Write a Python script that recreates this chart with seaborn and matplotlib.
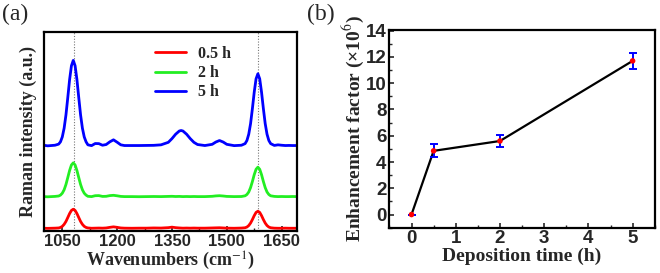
import numpy as np
import pandas as pd
import matplotlib
matplotlib.use("Agg")
import matplotlib.pyplot as plt
from matplotlib.ticker import MultipleLocator
import seaborn as sns

# ---------------- data ----------------
wavenumbers = [1000, 1010, 1020, 1030, 1040, 1045, 1050, 1055, 1060, 1065, 1070, 1075, 1080,
               1085, 1090, 1095, 1100, 1105, 1110, 1115, 1120, 1130, 1140, 1150, 1160, 1170,
               1180, 1190, 1200, 1210, 1220, 1240, 1260, 1280, 1300, 1320, 1340, 1350, 1360,
               1370, 1375, 1380, 1390, 1400, 1410, 1420, 1440, 1460, 1470, 1480, 1490, 1500,
               1520, 1540, 1550, 1555, 1560, 1565, 1570, 1575, 1580, 1585, 1590, 1595, 1600,
               1605, 1610, 1615, 1620, 1630, 1640, 1650, 1660, 1670, 1680, 1690]

spec_5h = [85.5, 85.0, 85.3, 85.6, 86.7, 89.0, 93.9, 102.6, 115.9, 133.2, 151.2, 165.0, 170.3,
           165.0, 151.2, 133.2, 115.9, 102.6, 93.9, 89.0, 86.0, 85.2, 87.3, 87.2, 85.6, 86.3,
           89.0, 91.0, 88.6, 86.0, 85.3, 85.3, 85.3, 85.4, 85.5, 86.0, 88.5, 92.2, 96.6,
           99.8, 100.3, 99.8, 96.6, 92.2, 88.5, 86.3, 85.3, 86.5, 88.8, 90.3, 88.8, 86.5,
           85.2, 85.6, 87.2, 90.3, 96.6, 107.2, 122.2, 138.6, 151.9, 157.0, 151.9, 138.6, 122.2,
           107.2, 96.6, 90.3, 87.2, 85.4, 86.0, 85.6, 85.3, 85.4, 85.3, 85.3]

spec_2h = [34.3, 34.1, 34.3, 34.5, 34.9, 35.8, 37.7, 41.1, 46.4, 53.3, 60.4, 65.9, 68.0,
           65.9, 60.4, 53.3, 46.4, 41.1, 37.7, 35.8, 34.6, 34.3, 35.2, 35.3, 34.5, 34.6,
           35.3, 35.6, 35.1, 34.5, 34.3, 34.3, 34.2, 34.3, 34.4, 34.3, 34.5, 34.6, 34.4,
           34.5, 34.4, 34.3, 34.4, 34.3, 34.4, 34.3, 34.3, 34.6, 35.0, 35.2, 34.9, 34.5,
           34.3, 34.4, 35.1, 36.4, 38.9, 43.3, 49.4, 56.2, 61.6, 63.7, 61.6, 56.2, 49.4,
           43.3, 38.9, 36.4, 35.1, 34.5, 34.3, 34.4, 34.3, 34.3, 34.4, 34.3]

spec_05h = [2.7, 2.6, 2.7, 2.8, 3.0, 3.5, 4.6, 6.6, 9.5, 13.4, 17.4, 20.5, 21.7,
            20.5, 17.4, 13.4, 9.5, 6.6, 4.6, 3.5, 3.0, 2.7, 2.8, 2.9, 2.8, 3.0,
            3.6, 4.1, 3.6, 3.0, 2.8, 2.7, 2.8, 2.8, 3.0, 2.9, 3.3, 3.8, 3.3,
            3.0, 2.9, 2.8, 2.9, 2.8, 2.9, 2.8, 2.8, 3.0, 3.1, 3.2, 3.0, 2.8,
            2.7, 2.9, 3.2, 3.9, 5.4, 7.9, 11.4, 15.3, 18.5, 19.7, 18.5, 15.3, 11.4,
            7.9, 5.4, 3.9, 3.2, 2.8, 2.7, 2.7, 2.8, 2.7, 2.7, 2.7]

series_labels = ["0.5 h", "2 h", "5 h"]
peak_positions = [1082, 1585]
xticks_a = [1050, 1200, 1350, 1500, 1650]

dep_time = [0, 0.5, 2, 5]
enh_factor = [0.0, 4.85, 5.6, 11.7]
enh_err = [0.0, 0.5, 0.42, 0.58]

# ---------------- style ----------------
sns.set_theme(style="ticks")
plt.rcParams["font.family"] = ["Liberation Sans", "DejaVu Sans"]
plt.rcParams["mathtext.fontset"] = "stix"
plt.rcParams["xtick.direction"] = "in"
plt.rcParams["ytick.direction"] = "in"

serif = ["Liberation Serif", "DejaVu Serif"]

fig = plt.figure(figsize=(6.6, 2.73), dpi=100)
ax1 = fig.add_axes([0.0667, 0.154, 0.3833, 0.730])
ax2 = fig.add_axes([0.590, 0.166, 0.402, 0.724])

# ---------------- panel (a) ----------------
df = pd.DataFrame({
    "wn": wavenumbers * 3,
    "I": spec_05h + spec_2h + spec_5h,
    "series": [series_labels[0]] * len(wavenumbers) + [series_labels[1]] * len(wavenumbers)
              + [series_labels[2]] * len(wavenumbers),
})
for p in peak_positions:
    ax1.axvline(p, color="#777777", ls=(0, (1, 1.5)), lw=0.8, zorder=0)
sns.lineplot(data=df, x="wn", y="I", hue="series", hue_order=series_labels,
             palette=["#FF0000", "#22EE22", "#0000FF"], sort=False, lw=2.0, ax=ax1)
ax1.set_xlim(1000, 1692)
ax1.set_ylim(0, 199)
ax1.set_xticks(xticks_a)
ax1.xaxis.set_minor_locator(MultipleLocator(75))
ax1.set_yticks([])
ax1.tick_params(axis="x", which="major", length=3.5, width=1.2, labelsize=12, pad=2.5)
ax1.tick_params(axis="x", which="minor", length=2, width=1.0)
for lab in ax1.get_xticklabels():
    lab.set_fontweight("bold")
for s in ax1.spines.values():
    s.set_linewidth(1.6)
    s.set_color("black")
ax1.set_xlabel("Wavenumbers (cm$^{-1}$)", family=serif, fontweight="bold", fontsize=13, labelpad=0)
ax1.set_ylabel("Raman intensity (a.u.)", family=serif, fontweight="bold", fontsize=13, labelpad=5)
leg = ax1.legend(loc="upper left", bbox_to_anchor=(0.38, 1.0), frameon=False,
                 handlelength=2.0, handletextpad=0.7, labelspacing=0.2,
                 prop={"family": serif, "weight": "bold", "size": 11.5})
for h in leg.get_lines():
    h.set_linewidth(2.0)

# ---------------- panel (b) ----------------
dfb = pd.DataFrame({"t": dep_time, "ef": enh_factor})
sns.lineplot(data=dfb, x="t", y="ef", color="black", lw=1.6, ax=ax2, zorder=2)
ax2.errorbar(dep_time, enh_factor, yerr=enh_err, fmt="none", ecolor="#0000FF",
             elinewidth=1.4, capsize=3, capthick=1.4, zorder=3)
sns.scatterplot(data=dfb, x="t", y="ef", color="#FF0000", s=16, edgecolor="none",
                ax=ax2, zorder=4)
ax2.set_xlim(-0.5, 5.5)
ax2.set_ylim(-1, 14.05)
ax2.set_xticks([0, 1, 2, 3, 4, 5])
ax2.set_yticks([0, 2, 4, 6, 8, 10, 12, 14])
ax2.xaxis.set_minor_locator(MultipleLocator(0.5))
ax2.yaxis.set_minor_locator(MultipleLocator(1))
ax2.tick_params(which="major", length=3.5, width=1.2, labelsize=13.5, pad=2)
ax2.tick_params(which="minor", length=2, width=1.0)
for lab in ax2.get_xticklabels() + ax2.get_yticklabels():
    lab.set_fontweight("bold")
for s in ax2.spines.values():
    s.set_linewidth(1.6)
    s.set_color("black")
ax2.set_xlabel("Deposition time (h)", family=serif, fontweight="bold", fontsize=14, labelpad=0.5)
ax2.set_ylabel("Enhancement factor (×10$^{6}$)", family=serif, fontweight="bold", fontsize=14, labelpad=0)

# panel labels
fig.text(0.003, 0.985, "(a)", family=serif, fontsize=17, va="top", ha="left")
fig.text(0.465, 0.985, "(b)", family=serif, fontsize=17, va="top", ha="left")

fig.savefig("out.png", dpi=100)
